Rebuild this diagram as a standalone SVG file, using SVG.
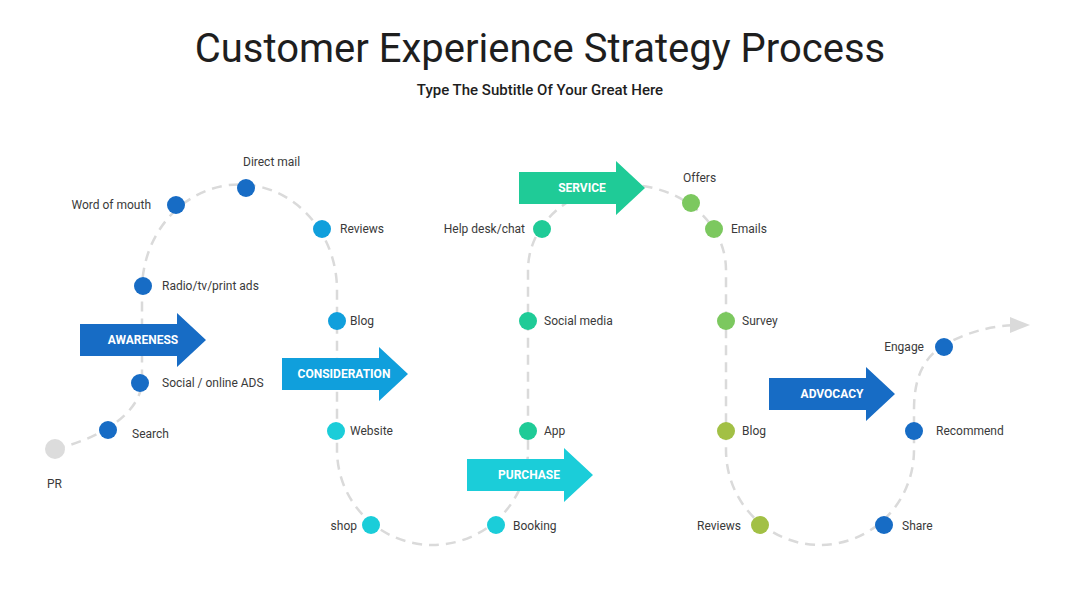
<svg xmlns="http://www.w3.org/2000/svg" width="1080" height="608" viewBox="0 0 1080 608">
<style>
.title{font-family:Roboto,"Liberation Sans",sans-serif;font-size:40px;fill:#1e1e1e;text-anchor:middle}
.sub{font-family:Roboto,"Liberation Sans",sans-serif;font-size:15px;font-weight:500;fill:#1e1e1e;text-anchor:middle}
.lbl{font-family:Roboto,"Liberation Sans",sans-serif;font-size:12px;fill:#3a3a3a}
.end{text-anchor:end}
.stage{font-family:Roboto,"Liberation Sans",sans-serif;font-size:12px;font-weight:700;fill:#ffffff;text-anchor:middle}
.path{fill:none;stroke:#dadada;stroke-width:2.5;stroke-dasharray:10 7}
.c1{fill:#176cc5}.c2{fill:#109fdc}.c3{fill:#1bcdd9}.c4{fill:#1fcb97}.c5{fill:#7cc85f}.c6{fill:#a2c045}.c0{fill:#dcdcdc}
</style>
<defs>
<path id="blk" d="M0 -16 H97 V-27 L126 0 L97 27 V16 H0 Z"/>
<marker id="ah" viewBox="0 0 20 16" refX="12" refY="8" markerWidth="20" markerHeight="16" markerUnits="userSpaceOnUse" orient="auto">
<path d="M0 0 L20 8 L0 16 Z" fill="#dadada"/>
</marker>
</defs>
<rect width="1080" height="608" fill="#ffffff"/>
<text class="title" x="540" y="62">Customer Experience Strategy Process</text>
<text class="sub" x="540" y="95">Type The Subtitle Of Your Great Here</text>
<g id="connectors">
<path class="path" marker-end="url(#ah)" d="M55 449 C95 440 142 415 142 380 L142 290 A97 105 0 0 1 337 290 L337 450 A95.5 95 0 0 0 528 450 L528 270 A99 85 0 0 1 726 270 L726 450 A94 95 0 0 0 914 450 L914 410 C914 375 925 355 948 343 C970 331 995 325 1022 325"/>
</g>
<g id="node-pr"><circle class="c0" cx="55" cy="449" r="10"/><text class="lbl" x="47" y="488">PR</text></g>
<g id="node-search"><circle class="c1" cx="108" cy="430" r="9"/><text class="lbl" x="132" y="438">Search</text></g>
<g id="node-social-ads"><circle class="c1" cx="140" cy="383" r="9"/><text class="lbl" x="162" y="387">Social / online ADS</text></g>
<g id="node-radio"><circle class="c1" cx="143" cy="286" r="9"/><text class="lbl" x="162" y="290">Radio/tv/print ads</text></g>
<g id="node-word"><circle class="c1" cx="176" cy="205" r="9"/><text class="lbl end" x="151" y="209">Word of mouth</text></g>
<g id="node-direct"><circle class="c1" cx="246" cy="188" r="9"/><text class="lbl" x="243" y="166">Direct mail</text></g>
<g id="node-reviews1"><circle class="c2" cx="322" cy="229" r="9"/><text class="lbl" x="340" y="233">Reviews</text></g>
<g id="node-blog1"><circle class="c2" cx="337" cy="321" r="9"/><text class="lbl" x="350" y="325">Blog</text></g>
<g id="node-website"><circle class="c3" cx="336" cy="431" r="9"/><text class="lbl" x="350" y="435">Website</text></g>
<g id="node-shop"><circle class="c3" cx="371" cy="525" r="9"/><text class="lbl end" x="357" y="530">shop</text></g>
<g id="node-booking"><circle class="c3" cx="496" cy="525" r="9"/><text class="lbl" x="513" y="530">Booking</text></g>
<g id="node-app"><circle class="c4" cx="528" cy="431" r="9"/><text class="lbl" x="544" y="435">App</text></g>
<g id="node-social-media"><circle class="c4" cx="528" cy="321" r="9"/><text class="lbl" x="544" y="325">Social media</text></g>
<g id="node-helpdesk"><circle class="c4" cx="542" cy="229" r="9"/><text class="lbl end" x="525" y="233">Help desk/chat</text></g>
<g id="node-offers"><circle class="c5" cx="691" cy="203" r="9"/><text class="lbl" x="683" y="182">Offers</text></g>
<g id="node-emails"><circle class="c5" cx="714" cy="229" r="9"/><text class="lbl" x="731" y="233">Emails</text></g>
<g id="node-survey"><circle class="c5" cx="726" cy="321" r="9"/><text class="lbl" x="742" y="325">Survey</text></g>
<g id="node-blog2"><circle class="c6" cx="726" cy="431" r="9"/><text class="lbl" x="742" y="435">Blog</text></g>
<g id="node-reviews2"><circle class="c6" cx="760" cy="525" r="9"/><text class="lbl end" x="741" y="530">Reviews</text></g>
<g id="node-share"><circle class="c1" cx="884" cy="525" r="9"/><text class="lbl" x="902" y="530">Share</text></g>
<g id="node-recommend"><circle class="c1" cx="914" cy="431" r="9"/><text class="lbl" x="936" y="435">Recommend</text></g>
<g id="node-engage"><circle class="c1" cx="944" cy="347" r="9"/><text class="lbl end" x="924" y="351">Engage</text></g>
<g id="stage-awareness"><use href="#blk" class="c1" transform="translate(80 340)"/><text class="stage" x="143" y="344">AWARENESS</text></g>
<g id="stage-consideration"><use href="#blk" class="c2" transform="translate(282 374)"/><text class="stage" x="344" y="378">CONSIDERATION</text></g>
<g id="stage-purchase"><use href="#blk" class="c3" transform="translate(467 475)"/><text class="stage" x="529" y="479">PURCHASE</text></g>
<g id="stage-service"><use href="#blk" class="c4" transform="translate(519 188)"/><text class="stage" x="582" y="192">SERVICE</text></g>
<g id="stage-advocacy"><use href="#blk" class="c1" transform="translate(769 394)"/><text class="stage" x="832" y="398">ADVOCACY</text></g>
</svg>
